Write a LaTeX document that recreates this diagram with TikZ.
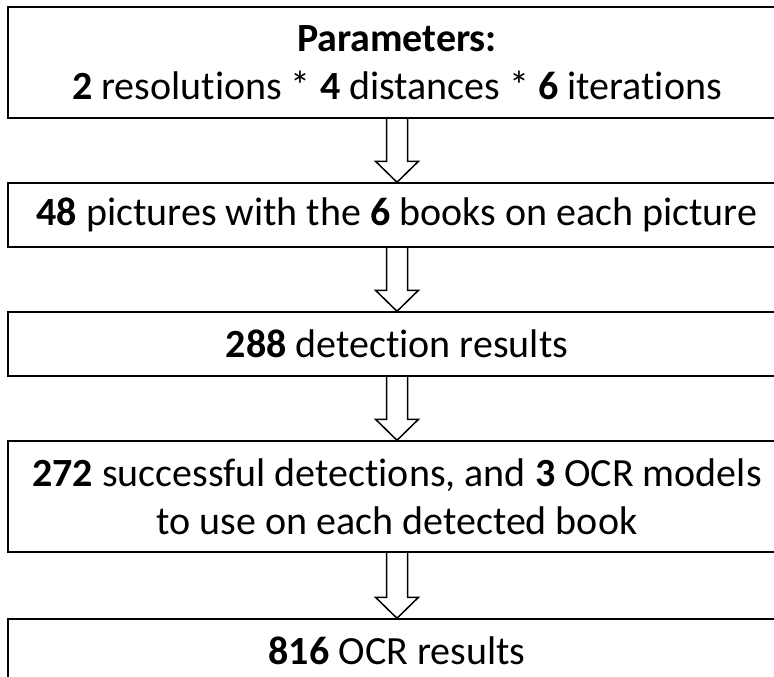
\documentclass[tikz,border=0pt]{standalone}
\usepackage{fontspec}
\setmainfont{Carlito}[Ligatures={NoCommon,NoRequired}]
\usetikzlibrary{calc}

\tikzset{
  stage/.style={draw, line width=1.5pt, rectangle, minimum width=778pt,
    inner sep=0pt, align=center, font=\fontsize{40}{48}\selectfont},
  blockarrow/.style={line width=1.5pt, to path={
    let \p1=(\tikztostart), \p2=(\tikztotarget) in
    (\x1-10.5pt,\y1) -- (\x1-10.5pt,\y2+21pt) -- (\x1-21.5pt,\y2+21pt) -- (\x1,\y2)
    -- (\x1+21.5pt,\y2+21pt) -- (\x1+10.5pt,\y2+21pt) -- (\x1+10.5pt,\y1)}}
}

\begin{document}
\begin{tikzpicture}[x=1pt,y=-1pt]
                \useasboundingbox (0,0) rectangle (774,677);
                \clip (0,0) rectangle (774,677);

                % the five stages
                \node[stage, minimum height=111pt] (params) at (397,62.5)
                  {\textbf{Parameters:}\\\textbf{2} resolutions * \textbf{4} distances * \textbf{6} iterations};
                \node[stage, minimum height=64pt] (pictures) at (397,215)
                  {\textbf{48} pictures with the \textbf{6} books on each picture};
                \node[stage, minimum height=64pt] (detect) at (397,344)
                  {\textbf{288} detection results};
                \node[stage, minimum height=111pt] (ocr) at (397,496.5)
                  {\textbf{272} successful detections, and \textbf{3} OCR models\\to use on each detected book};
                \node[stage, minimum height=64pt] (results) at (397,651)
                  {\textbf{816} OCR results};

                % hollow arrows between them
                \draw[blockarrow] (params.south) to (pictures.north);
                \draw[blockarrow] (pictures.south) to (detect.north);
                \draw[blockarrow] (detect.south) to (ocr.north);
                \draw[blockarrow] (ocr.south) to (results.north);
\end{tikzpicture}
\end{document}
